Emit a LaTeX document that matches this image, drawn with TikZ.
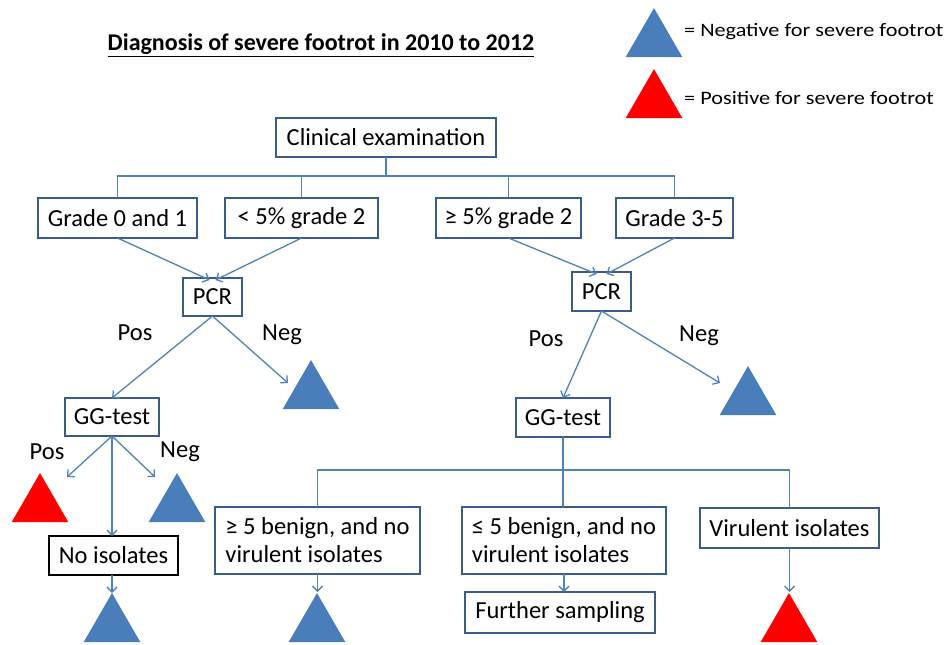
\documentclass[tikz,border=0pt]{standalone}
\usepackage{fontspec}
\setmainfont{Carlito}
\usetikzlibrary{arrows.meta,shapes.geometric}
\definecolor{lineblue}{HTML}{4F81BD}
\definecolor{boxblue}{HTML}{385D8A}
\definecolor{triblue}{HTML}{4A7EBB}
\definecolor{trired}{HTML}{FF0000}
\newcommand{\boxfont}{\fontsize{24.5}{28}\selectfont}
\newcommand{\legendtext}[1]{\scalebox{1.17}[1]{\fontsize{19}{22}\selectfont #1}}
\tikzset{
  conn/.style={draw=lineblue, line width=1.3pt},
  arr/.style={conn, -{Straight Barb[length=5pt,width=10pt,line width=1.3pt]}},
  box/.style={draw=boxblue, line width=1.5pt, fill=white, inner sep=0pt,
    outer sep=0pt, font=\boxfont, text=black},
  twoline/.style={box, align=left},
  lbl/.style={font=\boxfont, inner sep=0pt},
  tri/.style={regular polygon, regular polygon sides=3, minimum size=65.3pt,
    inner sep=0pt, outer sep=0pt},
  negtri/.style={tri, fill=triblue},
  postri/.style={tri, fill=trired},
}
\begin{document}
\begin{tikzpicture}[x=1pt, y=-1pt]
  \useasboundingbox (0,0) rectangle (946,645);

  % title and legend
  \node[font=\fontsize{24}{28}\selectfont\bfseries, inner sep=0pt] (title) at (321,45)
    {\underline{Diagnosis of severe footrot in 2010 to 2012}};
  \node[negtri] (legneg) at (654,40.7) {};
  \node[postri] (legpos) at (654,101.7) {};
  \node[anchor=west, inner sep=0pt] (legnegtxt) at (684,32)
    {\legendtext{= Negative for severe footrot}};
  \node[anchor=west, inner sep=0pt] (legpostxt) at (684,98)
    {\legendtext{= Positive for severe footrot}};

  % first level
  \node[box, minimum width=220pt, minimum height=39pt] (clin) at (386,137.5) {Clinical examination};
  \node[box, minimum width=159pt, minimum height=40pt] (g0) at (117.5,218) {Grade 0 and 1};
  \node[box, minimum width=153pt, minimum height=40pt] (g2) at (301.5,218) {< 5\% grade 2};
  \node[box, minimum width=145pt, minimum height=40pt] (g5) at (508.5,218) {≥ 5\% grade 2};
  \node[box, minimum width=117pt, minimum height=40pt] (g35) at (674.5,218) {Grade 3-5};

  \draw[conn] (clin.south) -- ++(0,19) coordinate (bus);
  \draw[conn] (g0.north) |- (bus) -| (g35.north);
  \draw[conn] (g2.north) -- (g2.north |- bus);
  \draw[conn] (g5.north) -- (g5.north |- bus);

  % PCR tests
  \node[box, minimum width=59pt, minimum height=38pt] (pcrL) at (212.5,297) {PCR};
  \node[box, minimum width=59pt, minimum height=39pt] (pcrR) at (601.5,291.5) {PCR};
  \draw[arr] (g0.south) -- ([xshift=-3pt,yshift=-2pt]pcrL.north);
  \draw[arr] (g2.south) -- ([xshift=3pt,yshift=-2pt]pcrL.north);
  \draw[arr] (g5.south) -- ([xshift=-5pt,yshift=-2pt]pcrR.north);
  \draw[arr] (g35.south) -- ([xshift=5pt,yshift=-2pt]pcrR.north);

  % left branch
  \node[box, minimum width=94pt, minimum height=38pt] (ggL) at (112,417) {GG-test};
  \node[negtri] (tpcrL) at (311,392.7) {};
  \coordinate (epcrL) at (288,383);
  \draw[arr] (pcrL.south) -- (ggL.north);
  \draw[arr] (pcrL.south) -- (epcrL);
  \node[lbl] (posL) at (135,333) {Pos};
  \node[lbl] (negL) at (282,335) {Neg};

  \node[postri] (tggpos) at (40,505.7) {};
  \node[negtri] (tggneg) at (177,505.7) {};
  \coordinate (eggpos) at (67,477);
  \coordinate (eggneg) at (155,477);
  \node[box, draw=black, minimum width=129pt, minimum height=39pt] (noiso) at (113.5,555.5) {No isolates};
  \draw[arr] (ggL.south) -- (eggpos);
  \draw[arr] (ggL.south) -- (eggneg);
  \draw[arr] (ggL.south) -- (ggL.south |- noiso.north);
  \node[lbl] (posGG) at (47,452) {Pos};
  \node[lbl] (negGG) at (180,452) {Neg};
  \node[negtri] (tnoiso) at (112,625.7) {};
  \draw[arr] (noiso.south -| ggL.south) -- ++(0,18);

  % right branch
  \node[box, minimum width=94pt, minimum height=39pt] (ggR) at (563,417.5) {GG-test};
  \node[negtri] (tpcrR) at (748,398.7) {};
  \coordinate (epcrR) at (720,383);
  \draw[arr] (pcrR.south) -- (ggR.north);
  \draw[arr] (pcrR.south) -- (epcrR);
  \node[lbl] (posR) at (546,339) {Pos};
  \node[lbl] (negR) at (699,336) {Neg};

  \node[twoline, minimum width=205pt, minimum height=67pt] (b1) at (317.5,540.5)
    {≥ 5 benign, and no\\virulent isolates};
  \node[twoline, minimum width=204pt, minimum height=67pt] (b2) at (564,540.5)
    {≤ 5 benign, and no\\virulent isolates};
  \node[box, minimum width=179pt, minimum height=40pt] (vir) at (789.5,528) {Virulent isolates};
  \node[box, minimum width=190pt, minimum height=41pt] (fur) at (560,612.5) {Further sampling};

  \draw[conn] (ggR.south) -- (ggR.south |- b2.north);
  \draw[conn] (b1.north) |- (ggR.south |- 0,470) -| (vir.north);

  \node[negtri] (tb1) at (317,625.7) {};
  \node[postri] (tvir) at (789,625.7) {};
  \draw[arr] (b1.south) -- ++(0,18);
  \draw[arr] (b2.south) -- (b2.south |- fur.north);
  \draw[arr] (vir.south) -- ++(0,44);
\end{tikzpicture}
\end{document}
